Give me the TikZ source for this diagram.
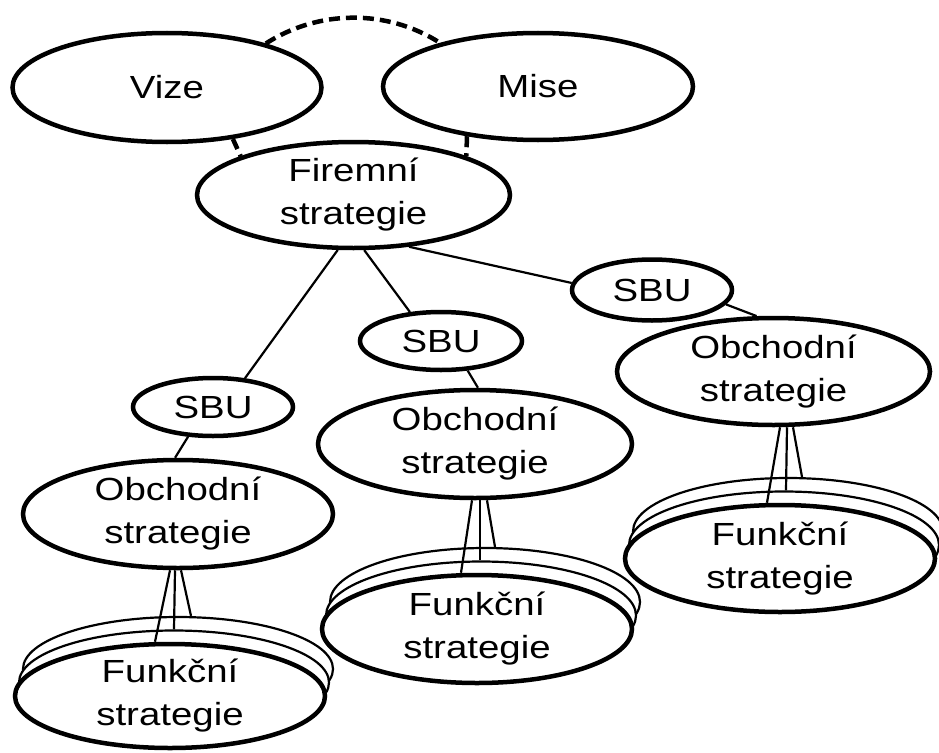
\documentclass[tikz,border=0pt]{standalone}
\usepackage{fontspec}
\setmainfont{Liberation Sans}[FakeStretch=1.2]
\usetikzlibrary{shapes.geometric}
\begin{document}
\begin{tikzpicture}[x=1pt,y=-1pt,
  every node/.style={font=\fontsize{32}{43}\selectfont, align=center, text=black},
  dims/.style n args={2}{minimum width=#1pt, minimum height=#2pt},
  oval/.style={ellipse, draw, line width=4.5pt, fill=white, inner xsep=0pt, inner ysep=-20pt},
  layer/.style={ellipse, draw, line width=2.2pt, fill=white, inner sep=0pt},
  link/.style={line width=2.2pt},
  tie/.style={line width=4.5pt, dash pattern=on 11pt off 6pt},
]
\useasboundingbox (0,0) rectangle (939,752);

% top level
\node[oval, dims={309}{109}] (vize) at (167,87.5) {Vize};
\node[oval, dims={310}{107}] (mise) at (538,86.5) {Mise};
\node[oval, dims={313}{106}] (fir) at (353.5,195) {Firemní\\strategie};

% dashed relations between vision, mission and corporate strategy
\draw[tie] (vize.24) .. controls +(53,-34) and +(-53,-34) .. (mise.156);
\draw[tie] (vize.-38) -- (fir.161);
\draw[tie] (mise.-145) -- (fir.19);

% business units
\node[oval, dims={160}{58}] (sbuL) at (213,407) {SBU};
\node[oval, dims={162}{58}] (sbuM) at (441,341) {SBU};
\node[oval, dims={160}{61}] (sbuR) at (652,290) {SBU};

\node[oval, dims={310}{108}] (obL) at (178,514) {Obchodní\\strategie};
\node[oval, dims={314}{108}] (obM) at (475,444) {Obchodní\\strategie};
\node[oval, dims={313}{107}] (obR) at (773.5,371.5) {Obchodní\\strategie};

% functional strategy stacks
\node[layer, dims={310}{104}] (fL2) at (178,669) {};
\node[layer, dims={310}{104}] (fL1) at (174,682.5) {};
\node[oval, dims={310}{104}] (fL) at (170,696) {Funkční\\strategie};

\node[layer, dims={310}{108}] (fM2) at (485,602) {};
\node[layer, dims={310}{108}] (fM1) at (481,615.5) {};
\node[oval, dims={310}{108}] (fM) at (477,629) {Funkční\\strategie};

\node[layer, dims={310}{107}] (fR2) at (788,531.5) {};
\node[layer, dims={310}{107}] (fR1) at (784,545) {};
\node[oval, dims={310}{107}] (fR) at (780,558.5) {Funkční\\strategie};

% hierarchy links
\draw[link] (fir.-106) -- (sbuL.42);
\draw[link] (fir.-79) -- (sbuM.137);
\draw[link] (fir.-43) -- (sbuR.175);
\draw[link] (sbuL.-130) -- (obL.93);
\draw[link] (sbuM.-48) -- (obM.87);
\draw[link] (sbuR.-11) -- (obR.107);

% fan of links into each stack
\draw[link] ([xshift=-8pt]obL.south) -- ([xshift=-15pt]fL.north);
\draw[link] ([xshift=-3pt]obL.south) -- ([xshift=0pt]fL1.north);
\draw[link] ([xshift=3pt]obL.south) -- ([xshift=13pt]fL2.north);

\draw[link] ([xshift=-3pt]obM.south) -- ([xshift=-16pt]fM.north);
\draw[link] ([xshift=5pt]obM.south) -- ([xshift=-1pt]fM1.north);
\draw[link] ([xshift=12pt]obM.south) -- ([xshift=10pt]fM2.north);

\draw[link] ([xshift=6.5pt]obR.south) -- ([xshift=-13pt]fR.north);
\draw[link] ([xshift=13.5pt]obR.south) -- ([xshift=2pt]fR1.north);
\draw[link] ([xshift=19.5pt]obR.south) -- ([xshift=14pt]fR2.north);
\end{tikzpicture}
\end{document}
